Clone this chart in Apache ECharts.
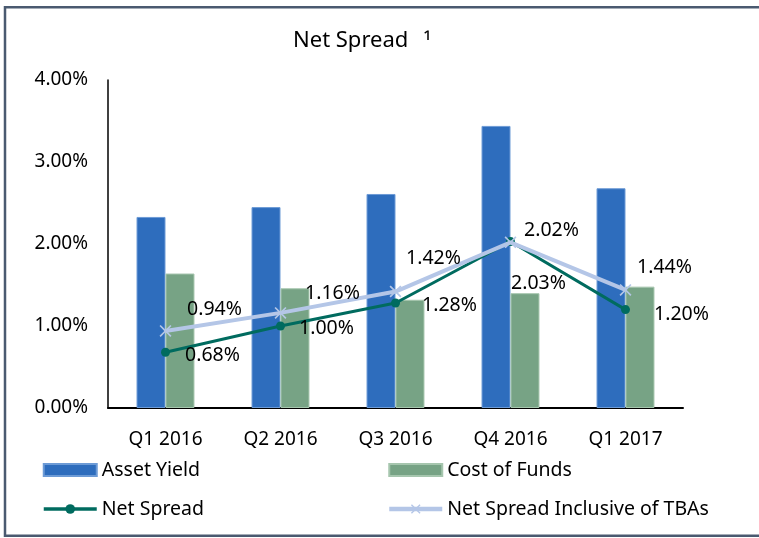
<!DOCTYPE html>
<html>
<head>
<meta charset="utf-8">
<script src="https://cdn.jsdelivr.net/npm/echarts@6/dist/echarts.min.js"></script>
<style>
html,body{margin:0;padding:0;background:#fff;}
#c{width:759px;height:538px;}
</style>
</head>
<body>
<div id="c"></div>
<script>
var categories = ['Q1 2016', 'Q2 2016', 'Q3 2016', 'Q4 2016', 'Q1 2017'];
var assetYield = [2.33, 2.45, 2.61, 3.44, 2.68];
var costOfFunds = [1.64, 1.46, 1.32, 1.40, 1.48];
var netSpread = [0.68, 1.00, 1.28, 2.03, 1.20];
var netSpreadTBA = [0.94, 1.16, 1.42, 2.02, 1.44];
var yTicks = [0, 1, 2, 3, 4];

// label offsets (layout only)
var netOffsets = [[47, 3], [46, 2], [54, 2], [28, 42], [56, 5]];
var tbaOffsets = [[49, -21], [52, -19], [38, -33], [41, -12], [39, -22]];

var FONT = '"Noto Sans", "Open Sans", sans-serif';
var pct = function (v) { return v.toFixed(2) + '%'; };

function withOffsets(vals, offs) {
  return vals.map(function (v, i) {
    return { value: v, label: { offset: offs[i] } };
  });
}

var chart = echarts.init(document.getElementById('c'), null, { renderer: 'canvas' });
chart.setOption({
  animation: false,
  backgroundColor: '#ffffff',
  textStyle: { fontFamily: FONT },
  title: {
    text: 'Net Spread  \u2009{s|\u00b9}',
    left: 288,
    top: 23,
    textStyle: {
      fontFamily: FONT, fontSize: 22, fontWeight: 'normal', color: '#000',
      rich: { s: { fontFamily: FONT, fontSize: 22, color: '#000', padding: [4, 0, 0, 0] } }
    }
  },
  graphic: [{
    type: 'rect',
    shape: { x: 5, y: 7.3, width: 780, height: 528.5 },
    style: { fill: 'none', stroke: '#4a5a70', lineWidth: 2.5 },
    silent: true,
    z: 100
  }],
  legend: [{
    data: [
      { name: 'Asset Yield', icon: 'rect' },
      { name: 'Net Spread', lineStyle: { width: 3.5, color: '#006b5f' } }
    ],
    orient: 'vertical',
    left: 37,
    top: 455,
    itemWidth: 53,
    itemHeight: 12,
    itemGap: 19,
    textStyle: { fontFamily: FONT, fontSize: 19.5, color: '#000', lineHeight: 20 }
  }, {
    data: [
      { name: 'Cost of Funds', icon: 'rect' },
      { name: 'Net Spread Inclusive of TBAs', lineStyle: { width: 4.5, color: '#b4c6e7' } }
    ],
    orient: 'vertical',
    left: 382,
    top: 455,
    itemWidth: 53,
    itemHeight: 12,
    itemGap: 19,
    textStyle: { fontFamily: FONT, fontSize: 19.5, color: '#000', lineHeight: 20 }
  }],
  grid: { left: 108, right: 76, top: 80, bottom: 130, containLabel: false },
  xAxis: {
    type: 'category',
    data: categories,
    boundaryGap: true,
    axisLine: { show: true, lineStyle: { color: '#000', width: 2 } },
    axisTick: { show: false },
    axisLabel: { fontFamily: FONT, fontSize: 19, color: '#000', margin: 22 },
    splitLine: { show: false }
  },
  yAxis: {
    type: 'value',
    min: yTicks[0],
    max: yTicks[yTicks.length - 1],
    interval: 1,
    axisLine: { show: true, lineStyle: { color: '#000', width: 1.5 } },
    axisTick: { show: false },
    splitLine: { show: false },
    axisLabel: { fontFamily: FONT, fontSize: 19, color: '#000', margin: 20, formatter: pct }
  },
  series: [{
    name: 'Asset Yield',
    type: 'bar',
    data: assetYield,
    barGap: '0%',
    barCategoryGap: '49.6%',
    itemStyle: { color: '#2e6dbd', borderColor: '#6d9bd6', borderWidth: 1 }
  }, {
    name: 'Cost of Funds',
    type: 'bar',
    data: costOfFunds,
    itemStyle: { color: '#77a385', borderColor: '#a6c6ae', borderWidth: 1 }
  }, {
    name: 'Net Spread',
    type: 'line',
    data: withOffsets(netSpread, netOffsets),
    symbol: 'circle',
    symbolSize: 9,
    lineStyle: { color: '#006b5f', width: 3 },
    itemStyle: { color: '#006b5f' },
    label: {
      show: true, position: 'inside', formatter: function (p) { return pct(p.value); },
      fontFamily: FONT, fontSize: 19.5, color: '#000'
    },
    z: 3
  }, {
    name: 'Net Spread Inclusive of TBAs',
    type: 'line',
    data: withOffsets(netSpreadTBA, tbaOffsets),
    symbol: 'path://M0,1 L1,0 L5,4 L9,0 L10,1 L6,5 L10,9 L9,10 L5,6 L1,10 L0,9 L4,5 Z',
    symbolSize: 12,
    lineStyle: { color: '#b4c6e7', width: 4 },
    itemStyle: { color: '#b4c6e7' },
    label: {
      show: true, position: 'inside', formatter: function (p) { return pct(p.value); },
      fontFamily: FONT, fontSize: 19.5, color: '#000'
    },
    z: 4
  }]
});
</script>
</body>
</html>
